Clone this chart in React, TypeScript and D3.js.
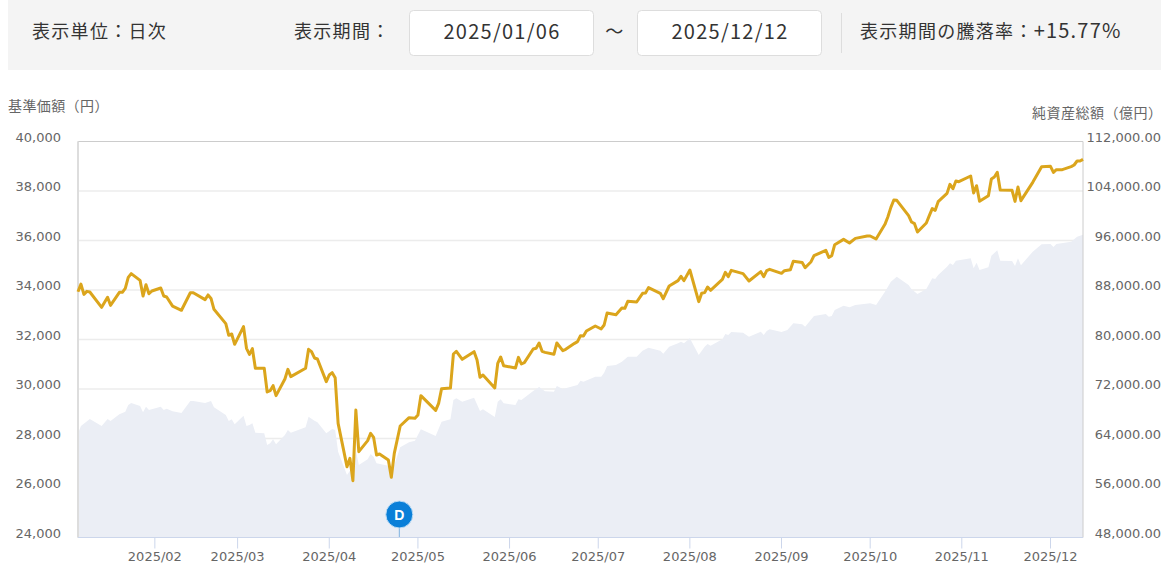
import { useMemo } from "react";
import * as d3 from "d3";

const width = 1169;
const height = 570;
const marginLeft = 78;
const marginRight = 1083;
const marginTop = 141.5;
const marginBottom = 537.5;

const priceTicks = [24000, 26000, 28000, 30000, 32000, 34000, 36000, 38000, 40000];
const navTicks = [48000, 56000, 64000, 72000, 80000, 88000, 96000, 104000, 112000];
const monthTicks = ["2025-02-01", "2025-03-01", "2025-04-01", "2025-05-01", "2025-06-01", "2025-07-01", "2025-08-01", "2025-09-01", "2025-10-01", "2025-11-01", "2025-12-01"];

// 基準価額
const priceDates = [
  "01-06","01-07","01-08","01-09","01-10","01-14","01-16","01-17","01-20","01-21","01-22","01-23","01-24","01-27","01-28","01-29","01-30","01-31",
  "02-03","02-04","02-05","02-07","02-10","02-13","02-14","02-18","02-19","02-20","02-21","02-25","02-26","02-27","02-28",
  "03-03","03-04","03-05","03-06","03-07","03-10","03-11","03-12","03-13","03-14","03-17","03-18","03-19","03-24","03-25","03-26","03-27","03-28","03-31",
  "04-01","04-02","04-03","04-04","04-07","04-08","04-09","04-10","04-11","04-14","04-15","04-16","04-17","04-18","04-21","04-22","04-23","04-25","04-28","04-30",
  "05-01","05-02","05-07","05-08","05-09","05-12","05-13","05-14","05-16","05-20","05-21","05-22","05-23","05-27","05-28","05-29","05-30",
  "06-03","06-04","06-05","06-06","06-09","06-10","06-11","06-12","06-13","06-16","06-17","06-19","06-20","06-23","06-24","06-25","06-26","06-27","06-30",
  "07-02","07-03","07-04","07-07","07-09","07-10","07-11","07-14","07-16","07-17","07-18","07-22","07-23","07-25","07-28","07-29","07-30",
  "08-01","08-04","08-05","08-06","08-07","08-08","08-12","08-13","08-14","08-15","08-19","08-21","08-25","08-26","08-27","08-28",
  "09-01","09-02","09-04","09-05","09-08","09-09","09-11","09-12","09-16","09-17","09-18","09-19","09-22","09-24","09-26","09-30",
  "10-01","10-03","10-06","10-07","10-08","10-09","10-10","10-14","10-15","10-16","10-17","10-20","10-21","10-22","10-23","10-24","10-27","10-28","10-29","10-30","10-31",
  "11-04","11-05","11-06","11-07","11-10","11-11","11-12","11-13","11-14","11-18","11-19","11-20","11-21","11-25","11-28",
  "12-01","12-02","12-03","12-05","12-08","12-09","12-10","12-11","12-12",
];
const priceValues = [
  33930,34240,33824,33945,33918,33300,33703,33380,33905,33905,34067,34510,34660,34390,33757,34215,33850,33960,
  34080,33757,33716,33350,33180,33890,33890,33610,33800,33660,33220,32640,32170,32223,31806,
  32520,31644,31400,31630,30836,30836,29880,29933,30135,29731,30405,30795,30499,30836,31604,31509,31253,31213,30297,
  30566,30661,30459,28613,26862,27199,26296,29152,27468,27913,28209,28048,27334,27374,27130,26431,27401,28505,28841,28815,
  28949,29730,29138,29420,30013,30040,31414,31522,31199,31508,31172,30471,30566,30040,31037,31293,30943,
  30848,31279,31010,31064,31616,31643,31859,31522,31481,31401,31859,31549,31603,31845,31912,32155,32141,32344,32546,
  32425,32586,33071,33004,33273,33260,33542,33515,33866,33879,34095,33866,33650,34162,34378,34553,34378,
  34809,33529,33866,33893,34122,33987,34431,34714,34539,34795,34660,34364,34741,34539,34782,34836,
  34674,34782,34822,35160,35110,34901,35144,35386,35602,35319,35386,35831,36046,35898,36087,36181,
  36181,36060,36653,36962,37340,37636,37622,37003,36747,36680,36343,36707,37003,37286,37218,37569,37905,38269,38094,38404,38377,
  38606,37919,38215,37582,37811,38485,38565,38754,38040,38027,37582,38161,37609,38350,38983,
  38996,38754,38862,38862,38983,39050,39212,39212,39279,
];

// 純資産総額
const navDates = [
  "01-06","01-07","01-10","01-14","01-16","01-17","01-20","01-22","01-23","01-24","01-27","01-28","01-29","01-30",
  "02-03","02-04","02-05","02-07","02-10","02-13","02-14","02-18","02-20","02-21","02-25","02-26","02-27","02-28",
  "03-03","03-04","03-05","03-06","03-07","03-10","03-11","03-12","03-13","03-14","03-17","03-18","03-19","03-24","03-25","03-27","03-28","03-31",
  "04-02","04-03","04-04","04-07","04-08","04-09","04-10","04-11","04-14","04-15","04-16","04-17","04-21","04-22","04-25","04-28","04-30",
  "05-02","05-07","05-09","05-12","05-13","05-14","05-16","05-20","05-22","05-23","05-27","05-28","05-29","05-30",
  "06-03","06-04","06-05","06-09","06-11","06-13","06-16","06-17","06-19","06-24","06-25","06-26","06-30",
  "07-02","07-03","07-04","07-07","07-09","07-11","07-14","07-16","07-18","07-22","07-23","07-25","07-28","07-29","07-30",
  "08-01","08-04","08-06","08-07","08-08","08-12","08-13","08-14","08-15","08-19","08-21","08-25","08-26","08-27","08-28",
  "09-01","09-03","09-05","09-08","09-09","09-12","09-16","09-17","09-18","09-19","09-22","09-24","09-26",
  "10-01","10-03","10-06","10-08","10-10","10-14","10-15","10-17","10-20","10-22","10-23","10-24","10-27","10-28","10-29","10-30",
  "11-04","11-05","11-06","11-07","11-10","11-11","11-13","11-14","11-18","11-19","11-20","11-21","11-25","11-28",
  "12-01","12-02","12-03","12-08","12-10","12-12",
];
const navValues = [
  64838,66023,67154,66023,67154,66832,67909,68340,69417,69740,69256,68232,69148,68609,
  69148,68609,68825,68393,68124,70064,70064,69740,70064,69040,67801,66832,67101,66292,
  67693,66023,66185,66454,64946,64838,62952,63222,63868,63060,64569,65376,64946,65808,67531,66885,66616,64838,
  65539,65377,61875,58104,58805,57565,62100,59720,60636,61498,61067,59990,59612,58266,62575,63383,63652,
  65483,64406,66722,67100,70224,70494,69955,70601,68446,68715,67476,69955,70332,69685,
  69416,70332,70224,71678,72325,71624,71571,72487,72002,72648,73348,73187,73995,
  73995,74642,75719,75881,76419,77227,77227,78197,78682,78197,77712,78843,79382,79651,79382,
  80190,77496,78843,79274,79005,80028,80890,80729,81214,81106,80460,81268,80729,81376,81644,
  81214,81537,82612,82451,82074,83798,84121,83690,83798,84768,85468,85199,85576,
  85845,85576,87730,89346,90155,88807,88107,87353,88161,89885,89777,90424,91771,92310,92040,92740,
  93118,91502,92417,91232,91663,93549,94411,92740,92686,91879,93118,91986,94195,95380,
  95434,94949,95434,95811,96619,96942,
];

const toDate = (md: string) => new Date(`2025-${md}T00:00:00`);

const tickFont = "'DejaVu Sans', Verdana, sans-serif";
const jpFont = "'Noto Sans CJK JP', sans-serif";

const App = () => {
  const xScale = useMemo(
    () => d3.scaleTime().domain([toDate("01-06"), toDate("12-12")]).range([marginLeft, marginRight]),
    []
  );
  const yPrice = d3.scaleLinear().domain([24000, 40000]).range([marginBottom, marginTop]);
  const yNav = d3.scaleLinear().domain([48000, 112000]).range([marginBottom, marginTop]);

  const priceLine = d3
    .line<string>()
    .x((d) => xScale(toDate(d)))
    .y((_, i) => yPrice(priceValues[i]));

  const navArea = d3
    .area<string>()
    .x((d) => xScale(toDate(d)))
    .y0(marginBottom)
    .y1((_, i) => yNav(navValues[i]));

  const fmt = d3.format(",");
  const fmtNav = d3.format(",.2f");
  const dMarkerX = xScale(toDate("04-22")) + 8;

  return (
    <svg width={width} height={height} viewBox={`0 0 ${width} ${height}`} style={{ position: "absolute", left: 0, top: 0 }}>
      {/* header */}
      <rect x={8} y={0} width={1153} height={70} fill="#f4f4f4" />
      <g fontFamily={jpFont} fontSize={18} fill="#333" letterSpacing={1.3}>
        <text x={32} y={38}>表示単位：日次</text>
        <text x={294} y={38}>表示期間：</text>
        <text x={615} y={38} textAnchor="middle">～</text>
        <text x={860} y={38}>表示期間の騰落率：<tspan fontSize={20} letterSpacing={1.2}>+15.77%</tspan></text>
      </g>
      <rect x={409.5} y={10.5} width={184} height={45} rx={4} fill="#fff" stroke="#ddd" />
      <rect x={637.5} y={10.5} width={184} height={45} rx={4} fill="#fff" stroke="#ddd" />
      <g fontFamily={jpFont} fontSize={20} fill="#333" textAnchor="middle" letterSpacing={1.25}>
        <text x={502} y={39}>2025/01/06</text>
        <text x={730} y={39}>2025/12/12</text>
      </g>
      <line x1={841.5} x2={841.5} y1={13} y2={53} stroke="#ddd" />

      {/* axis titles */}
      <text x={8} y={111} fontFamily={jpFont} fontSize={14} letterSpacing={0.4} fill="#666">基準価額（円）</text>
      <text x={1032} y={118} fontFamily={jpFont} fontSize={14} letterSpacing={0.5} fill="#666">純資産総額（億円）</text>

      {/* plot */}
      {priceTicks.slice(1, -1).map((t) => (
        <line key={t} x1={marginLeft} x2={marginRight} y1={yPrice(t)} y2={yPrice(t)} stroke="#ececec" strokeWidth={1.5} />
      ))}
      <path d={navArea(navDates) ?? ""} fill="#ebeef5" />
      <path d={`M${marginLeft},${marginBottom}V${marginTop}H${marginRight}V${marginBottom}`} fill="none" stroke="#ccc" strokeWidth={1} />
      <line x1={marginLeft} x2={marginLeft} y1={marginTop} y2={marginBottom} stroke="#ddd" strokeWidth={2} />
      <line x1={marginLeft} x2={marginRight} y1={marginBottom} y2={marginBottom} stroke="#ccd6eb" />
      <path d={priceLine(priceDates) ?? ""} fill="none" stroke="#dba51c" strokeWidth={3} strokeLinejoin="round" />

      {/* axes */}
      <g fontFamily={tickFont} fontSize={13} fill="#666">
        {priceTicks.map((t) => (
          <text key={t} x={61} y={yPrice(t)} textAnchor="end">{fmt(t)}</text>
        ))}
        {navTicks.map((t) => (
          <text key={t} x={1161} y={yNav(t)} textAnchor="end">{fmtNav(t)}</text>
        ))}
        {monthTicks.map((t) => {
          const x = xScale(new Date(`${t}T00:00:00`));
          return (
            <g key={t}>
              <line x1={x} x2={x} y1={marginBottom} y2={marginBottom + 11} stroke="#ccd6eb" />
              <text x={x} y={561} textAnchor="middle">{d3.timeFormat("%Y/%m")(new Date(`${t}T00:00:00`))}</text>
            </g>
          );
        })}
      </g>

      {/* D marker */}
      <line x1={dMarkerX} x2={dMarkerX} y1={526} y2={537} stroke="#7fb2e0" />
      <circle cx={dMarkerX} cy={514.5} r={13.5} fill="#0a7fd8" stroke="#bcdcf5" />
      <text x={dMarkerX} y={519.5} textAnchor="middle" fontFamily="'Liberation Sans', sans-serif" fontWeight="bold" fontSize={14} fill="#fff">D</text>
    </svg>
  );
};

export default App;
